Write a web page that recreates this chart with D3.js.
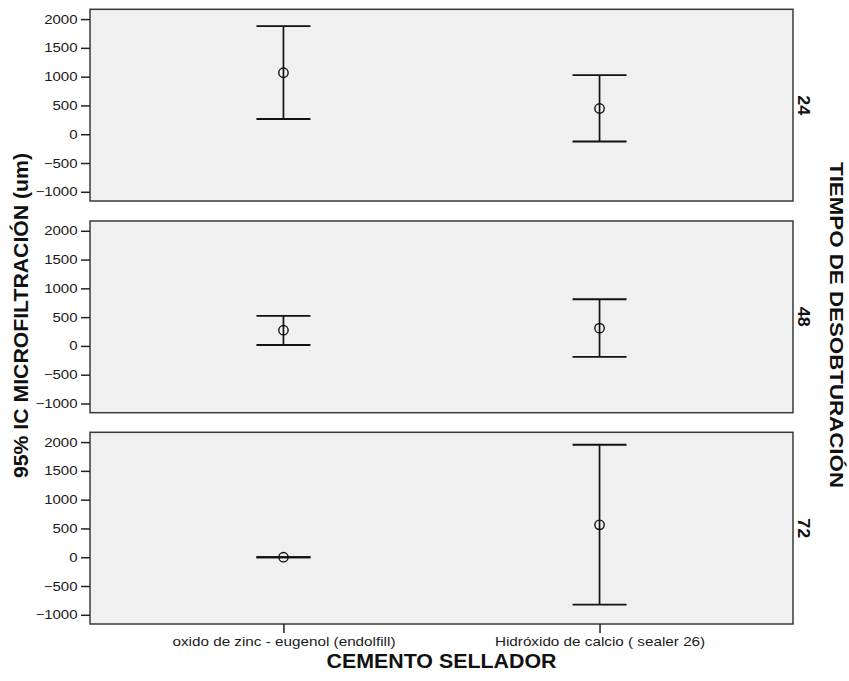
<!DOCTYPE html>
<html>
<head>
<meta charset="utf-8">
<script src="https://cdn.jsdelivr.net/npm/d3@7"></script>
<style>
  html, body { margin: 0; padding: 0; background: #ffffff; }
  svg { display: block; font-family: "Liberation Sans", Arial, sans-serif; }
</style>
</head>
<body>
<svg id="chart" width="849" height="681"></svg>
<script>
// Sealer cements on the x axis
const categories = ["oxido de zinc - eugenol (endolfill)", "Hidróxido de calcio ( sealer 26)"];
// Removal times (hours), one panel each
const tiempos = ["24", "48", "72"];
// Means and 95% CI bounds, per panel, per cement
const medias   = [[1068, 447], [273, 308], [0, 563]];
const inferior = [[264, -127], [17, -191], [0, -823]];
const superior = [[1878, 1026], [522, 812], [0, 1955]];
// Y axis ticks
const yTicks = [-1000, -500, 0, 500, 1000, 1500, 2000];

const svg = d3.select("#chart");
const ink = "#111";

const left = 90, right = 793;
const panelTops = [9.3, 221, 432.3];
const panelH = 191.7;
const yDomain = [-1160, 2170];

const x = d3.scalePoint()
  .domain(categories)
  .range([left, right])
  .padding(0.612);

const capHalf = 27;

// widen text horizontally by a factor k along its own baseline
function stretch(sel, k) {
  sel.each(function () {
    const n = this.getComputedTextLength();
    d3.select(this).attr("textLength", n * k).attr("lengthAdjust", "spacingAndGlyphs");
  });
}

tiempos.forEach((t, i) => {
  const top = panelTops[i];
  const y = d3.scaleLinear().domain(yDomain).range([top + panelH, top]);
  const g = svg.append("g");

  // panel background and frame
  g.append("rect")
    .attr("x", left).attr("y", top)
    .attr("width", right - left).attr("height", panelH)
    .attr("fill", "#f0f0f0")
    .attr("stroke", "#3a3a3a").attr("stroke-width", 1.5);

  // y axis
  const yAxis = d3.axisLeft(y).tickValues(yTicks).tickFormat(d3.format("d"))
    .tickSize(9).tickPadding(3.5).tickSizeOuter(0);
  const ax = g.append("g").attr("transform", `translate(${left},0)`).call(yAxis);
  ax.select(".domain").remove();
  ax.selectAll(".tick line").attr("stroke", "#222").attr("stroke-width", 1.5);
  ax.selectAll(".tick text")
    .attr("fill", "#1a1a1a")
    .style("font-size", "12.5px")
    .style("font-family", "'Liberation Sans', Arial, sans-serif")
    .call(stretch, 1.2);

  // error bars
  categories.forEach((c, j) => {
    const cx = x(c);
    const lo = inferior[i][j], hi = superior[i][j], m = medias[i][j];
    g.append("line")
      .attr("x1", cx).attr("x2", cx)
      .attr("y1", y(hi)).attr("y2", y(lo))
      .attr("stroke", ink).attr("stroke-width", 1.7);
    [lo, hi].forEach(v => {
      g.append("line")
        .attr("x1", cx - capHalf).attr("x2", cx + capHalf)
        .attr("y1", y(v)).attr("y2", y(v))
        .attr("stroke", ink).attr("stroke-width", 1.9);
    });
    g.append("circle")
      .attr("cx", cx).attr("cy", y(m)).attr("r", 4.7)
      .attr("fill", "none")
      .attr("stroke", ink).attr("stroke-width", 1.4);
  });

  // panel label on the right
  g.append("text")
    .attr("transform", `translate(798,${top + panelH / 2}) rotate(90)`)
    .attr("text-anchor", "middle")
    .attr("font-weight", "bold")
    .style("font-size", "17px")
    .attr("fill", ink)
    .text(t)
    .call(stretch, 1.06);
});

// x axis under the bottom panel
const bottom = panelTops[2] + panelH;
const xAxis = d3.axisBottom(x).tickSize(9).tickPadding(3).tickSizeOuter(0);
const xa = svg.append("g").attr("transform", `translate(0,${bottom})`).call(xAxis);
xa.select(".domain").remove();
xa.selectAll(".tick line").attr("stroke", "#222").attr("stroke-width", 1.5);
xa.selectAll(".tick text")
  .attr("fill", "#1a1a1a")
  .style("font-size", "13.5px")
  .style("font-family", "'Liberation Sans', Arial, sans-serif")
  .call(stretch, 1.13);

// axis titles
svg.append("text")
  .attr("x", (left + right) / 2).attr("y", 668)
  .attr("text-anchor", "middle")
  .attr("font-weight", "bold")
  .style("font-size", "20px")
  .attr("fill", ink)
  .text("CEMENTO SELLADOR")
  .attr("textLength", 230).attr("lengthAdjust", "spacingAndGlyphs");

svg.append("text")
  .attr("transform", `translate(28,315.5) rotate(-90)`)
  .attr("text-anchor", "middle")
  .attr("font-weight", "bold")
  .style("font-size", "20px")
  .attr("fill", ink)
  .text("95% IC MICROFILTRACIÓN (um)")
  .attr("textLength", 325).attr("lengthAdjust", "spacingAndGlyphs");

svg.append("text")
  .attr("transform", `translate(830,325) rotate(90)`)
  .attr("text-anchor", "middle")
  .attr("font-weight", "bold")
  .style("font-size", "18px")
  .attr("fill", ink)
  .text("TIEMPO DE DESOBTURACIÓN")
  .attr("textLength", 326).attr("lengthAdjust", "spacingAndGlyphs");
</script>
</body>
</html>
